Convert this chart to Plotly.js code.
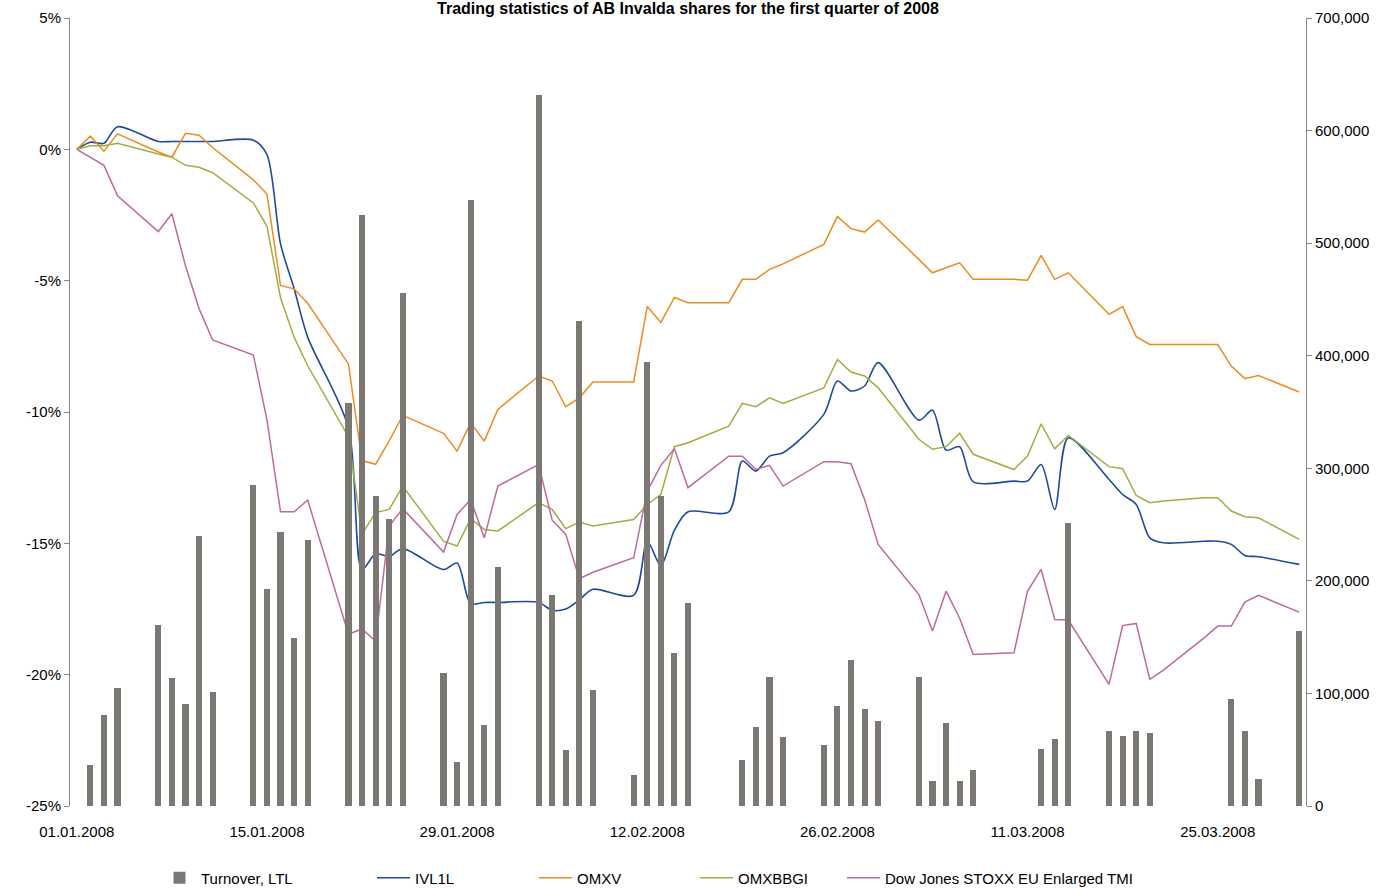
<!DOCTYPE html>
<html>
<head>
<meta charset="utf-8">
<script src="https://cdn.plot.ly/plotly-3.0.1.min.js"></script>
<style>
html,body{margin:0;padding:0;background:#fff;}
#chart{width:1387px;height:888px;}
</style>
</head>
<body>
<div id="chart"></div>
<script>
// Trading days (Jan 1 base point included)
const dates = [
 '2008-01-01','2008-01-02','2008-01-03','2008-01-04','2008-01-07','2008-01-08','2008-01-09','2008-01-10','2008-01-11',
 '2008-01-14','2008-01-15','2008-01-16','2008-01-17','2008-01-18','2008-01-21','2008-01-22','2008-01-23','2008-01-24','2008-01-25',
 '2008-01-28','2008-01-29','2008-01-30','2008-01-31','2008-02-01','2008-02-04','2008-02-05','2008-02-06','2008-02-07','2008-02-08',
 '2008-02-11','2008-02-12','2008-02-13','2008-02-14','2008-02-15','2008-02-18','2008-02-19','2008-02-20','2008-02-21','2008-02-22',
 '2008-02-25','2008-02-26','2008-02-27','2008-02-28','2008-02-29','2008-03-03','2008-03-04','2008-03-05','2008-03-06','2008-03-07',
 '2008-03-10','2008-03-11','2008-03-12','2008-03-13','2008-03-14','2008-03-17','2008-03-18','2008-03-19','2008-03-20','2008-03-21',
 '2008-03-24','2008-03-25','2008-03-26','2008-03-27','2008-03-28','2008-03-31'
];

const turnover = [
 null,36400,80800,104800,160800,113700,90600,239800,101300,
 285100,192800,243400,149200,236300,358000,525000,275400,254900,455700,
 118100,39100,538300,71900,212300,631600,187400,49700,430800,103000,
 27500,394400,275400,135900,180300,null,40900,69900,114900,61000,
 54200,88800,129700,85900,75800,114900,22200,74000,22200,32000,
 null,null,50400,59300,251700,66900,62200,66900,65100,null,
 null,null,94800,66900,23700,155700
];

const ivl1l = [
 0,0.27,0.23,0.86,0.30,0.30,0.30,0.30,0.30,
 0.35,-0.20,-3.60,-5.30,-7.15,-10.60,-16.00,-15.40,-15.50,-15.20,
 -16.00,-15.75,-17.30,-17.25,-17.25,-17.25,-17.55,-17.50,-17.15,-16.75,
 -16.98,-14.92,-15.84,-14.50,-13.80,-13.80,-11.87,-12.25,-11.68,-11.55,
 -10.09,-8.82,-9.20,-9.01,-8.12,-10.31,-9.93,-11.45,-11.32,-12.66,
 -12.63,-12.63,-12.00,-13.71,-10.98,-12.57,-13.14,-13.52,-14.79,-14.98,
 -14.92,-14.92,-15.04,-15.46,-15.51,-15.80
];

const omxv = [
 0,0.50,-0.07,0.59,-0.10,-0.30,0.61,0.54,0.07,
 -1.16,-1.70,-5.18,-5.31,-5.86,-8.17,-11.85,-11.99,-11.10,-10.13,
 -10.81,-11.49,-10.41,-11.11,-9.90,-8.63,-8.82,-9.80,-9.46,-8.86,
 -8.86,-5.98,-6.59,-5.64,-5.84,-5.84,-4.95,-4.95,-4.57,-4.36,
 -3.62,-2.56,-3.02,-3.15,-2.69,-4.19,-4.70,-4.51,-4.32,-4.95,
 -4.95,-4.98,-4.04,-4.95,-4.70,-6.28,-5.99,-7.13,-7.43,-7.43,
 -7.43,-7.43,-8.25,-8.73,-8.61,-9.24
];

const omxbbgi = [
 0,0.14,0.14,0.23,-0.18,-0.30,-0.61,-0.68,-0.89,
 -2.04,-2.93,-5.65,-7.15,-8.24,-10.94,-14.65,-13.83,-13.71,-12.82,
 -14.92,-15.10,-14.06,-14.47,-14.53,-13.45,-13.71,-14.44,-14.19,-14.34,
 -14.09,-13.52,-13.14,-11.32,-11.17,-10.54,-9.67,-9.80,-9.46,-9.67,
 -9.08,-8.00,-8.48,-8.63,-9.08,-11.04,-11.42,-11.32,-10.81,-11.61,
 -12.19,-11.68,-10.45,-11.40,-10.89,-12.08,-12.16,-13.18,-13.45,-13.39,
 -13.26,-13.26,-13.77,-13.99,-14.03,-14.85
];

const djStoxx = [
 0,-0.30,-0.61,-1.77,-3.13,-2.45,-4.43,-6.06,-7.26,
 -7.83,-10.29,-13.80,-13.80,-13.35,-18.46,-18.26,-18.73,-14.34,-13.68,
 -15.33,-13.90,-13.33,-14.79,-12.82,-12.00,-14.12,-14.66,-16.35,-16.10,
 -15.55,-13.01,-12.03,-11.40,-12.88,-11.68,-11.68,-12.19,-12.03,-12.82,
 -11.89,-11.89,-11.97,-13.33,-15.04,-16.95,-18.34,-16.82,-17.85,-19.23,
 -19.17,-16.82,-15.99,-17.90,-17.92,-20.37,-18.13,-18.05,-20.18,-19.83,
 -18.60,-18.15,-18.15,-17.24,-16.98,-17.62
];

const tickDates = ['2008-01-01','2008-01-15','2008-01-29','2008-02-12','2008-02-26','2008-03-11','2008-03-25'];
const tickLabels = ['01.01.2008','15.01.2008','29.01.2008','12.02.2008','26.02.2008','11.03.2008','25.03.2008'];
const leftTicks = [-25,-20,-15,-10,-5,0,5];
const leftTickLabels = ['-25%','-20%','-15%','-10%','-5%','0%','5%'];
const rightTicks = [0,100000,200000,300000,400000,500000,600000,700000];
const rightTickLabels = ['0','100,000','200,000','300,000','400,000','500,000','600,000','700,000'];
const seriesNames = ['Turnover, LTL','IVL1L','OMXV','OMXBBGI','Dow Jones STOXX EU Enlarged TMI'];
const titleText = 'Trading statistics of AB Invalda shares for the first quarter of 2008';

const FONT = 'Liberation Sans, Arial, sans-serif';
const axisGray = '#868686';
const W = 1387, H = 888;

const traces = [
 {type:'bar', x:dates, y:turnover, yaxis:'y2', name:seriesNames[0], legend:'legend',
  marker:{color:'#7b7873', line:{width:0}}, width:0.45*86400000},
 {type:'scatter', mode:'lines', x:dates, y:ivl1l, name:seriesNames[1], connectgaps:true, legend:'legend2',
  line:{color:'#1f4a9e', width:1.6, shape:'spline', smoothing:0.8}},
 {type:'scatter', mode:'lines', x:dates, y:omxv, name:seriesNames[2], connectgaps:true, legend:'legend3',
  line:{color:'#ee8a1f', width:1.5}},
 {type:'scatter', mode:'lines', x:dates, y:omxbbgi, name:seriesNames[3], connectgaps:true, legend:'legend4',
  line:{color:'#9bb040', width:1.5}},
 {type:'scatter', mode:'lines', x:dates, y:djStoxx, name:seriesNames[4], connectgaps:true, legend:'legend5',
  line:{color:'#c0699a', width:1.5}}
];

// legend text start positions (px) in the reference
const legendTextX = [201, 415, 577, 738, 885];
function legendAt(px){
  return {xref:'container', yref:'container', x:(px-43)/W, xanchor:'left',
          y:1-878/H, yanchor:'middle', orientation:'h', font:{size:15, color:'#000'},
          itemwidth:33, bgcolor:'rgba(0,0,0,0)', borderwidth:0};
}

const layout = {
 width:W, height:H,
 paper_bgcolor:'#fff', plot_bgcolor:'#fff',
 margin:{l:70, r:81, t:18, b:82, pad:0, autoexpand:false},
 font:{family:FONT, size:15, color:'#000'},
 showlegend:true,
 title:{text:'<b>'+titleText+'</b>', font:{family:FONT, size:16, color:'#000'},
        xref:'container', x:0.496, xanchor:'center', yref:'container', y:1-8/H, yanchor:'middle'},
 xaxis:{type:'date', range:['2007-12-31 12:00','2008-03-31 12:00'],
        tickvals:tickDates, ticktext:tickLabels, ticks:'', showline:false,
        showgrid:false, zeroline:false, ticklabelstandoff:15, tickfont:{size:15}},
 yaxis:{range:[-25,5], tickvals:leftTicks, ticktext:leftTickLabels, showline:true, linecolor:axisGray,
        linewidth:1, ticks:'outside', ticklen:5, tickcolor:axisGray, showgrid:false, zeroline:false,
        tickfont:{size:15}},
 yaxis2:{range:[0,700000], tickvals:rightTicks, ticktext:rightTickLabels, overlaying:'y', side:'right',
        showline:true, linecolor:axisGray, linewidth:1, ticks:'outside', ticklen:5, tickcolor:axisGray,
        showgrid:false, zeroline:false, tickfont:{size:15}},
 legend:legendAt(legendTextX[0]),
 legend2:legendAt(legendTextX[1]),
 legend3:legendAt(legendTextX[2]),
 legend4:legendAt(legendTextX[3]),
 legend5:legendAt(legendTextX[4]),
 bargap:0
};

Plotly.newPlot('chart', traces, layout, {displayModeBar:false, staticPlot:true});
</script>
</body>
</html>
